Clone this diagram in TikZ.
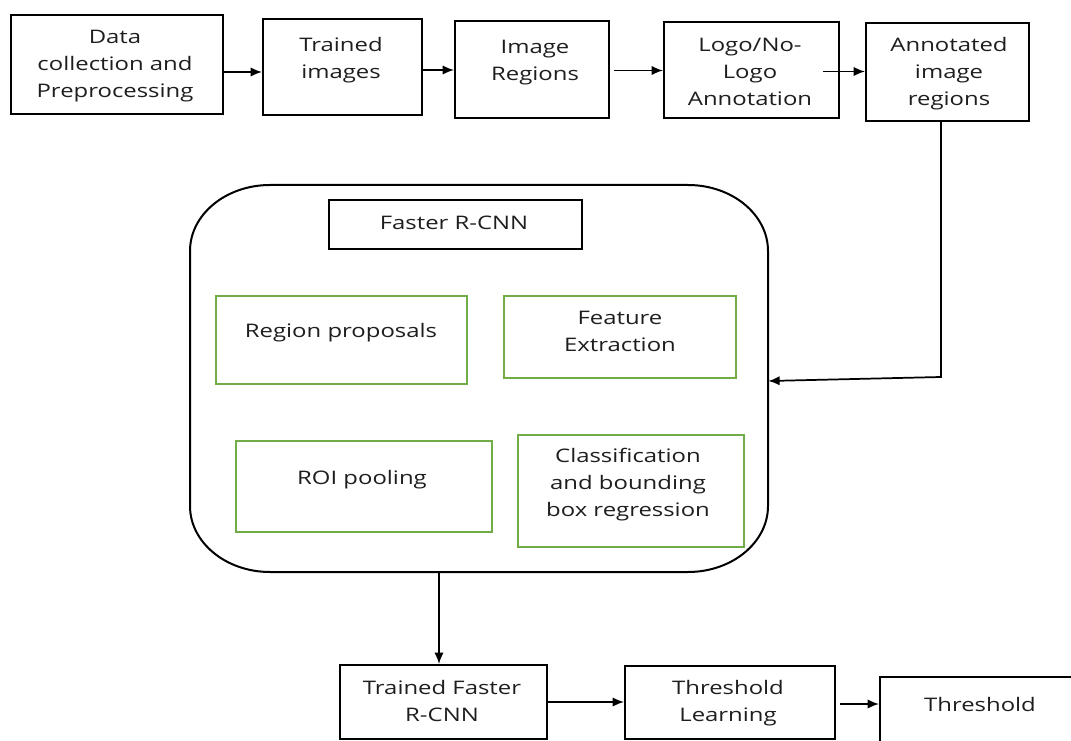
\documentclass[tikz,border=0pt]{standalone}
\usepackage{fontspec}
\setmainfont{Open Sans}[FakeStretch=1.28]
\usetikzlibrary{arrows.meta,fit}
\definecolor{boxgreen}{RGB}{112,173,71}
\definecolor{txtgray}{RGB}{30,30,30}
\begin{document}
\begin{tikzpicture}[x=0.75pt,y=-0.75pt,
  box/.style={draw=black, line width=1.5pt, inner sep=0pt},
  gbox/.style={draw=boxgreen, line width=1.2pt, inner sep=0pt},
  txt/.style={align=center, text=txtgray, font=\fontsize{14}{20.25}\selectfont, inner sep=0pt},
  conn/.style={line width=1.3pt, -{Latex[length=8.5pt,width=7pt]}},
]
\useasboundingbox (0,0) rectangle (1071,741);
\fill[white] (0,0) rectangle (1071,741);

% top row
\node[box, fit={(11,15) (223,114)}] (b1) {};
\node[box, fit={(263,19) (422,115)}] (b2) {};
\node[box, fit={(455,21) (609,118)}] (b3) {};
\node[box, fit={(664,22) (839,118)}] (b4) {};
\node[box, fit={(866,23) (1029,121)}] (b5) {};
\node[txt] (t1) at (115,66) {Data\\collection and\\Preprocessing};
\node[txt] (t2) at (341,60.5) {Trained\\images};
\node[txt] (t3) at (535,63) {Image\\Regions};
\node[txt] (t4) at (750,72) {Logo/No-\\Logo\\Annotation};
\node[txt] (t5) at (949,73.5) {Annotated\\image\\regions};

% Faster R-CNN container
\node[inner sep=0pt, fit={(190,185) (768,572)}] (rb) {};
\draw[line width=1.5pt] (270,185) -- (688,185)
  .. controls (732.2,185) and (768,214.6) .. (768,251) -- (768,506)
  .. controls (768,542.4) and (732.2,572) .. (688,572) -- (270,572)
  .. controls (225.8,572) and (190,542.4) .. (190,506) -- (190,251)
  .. controls (190,214.6) and (225.8,185) .. (270,185) -- cycle;
\node[box, fit={(329,200) (582,249)}] (frc) {};
\node[txt] (tfrc) at (454,223) {Faster R-CNN};
\node[gbox, fit={(216,296) (467,384)}] (g1) {};
\node[gbox, fit={(504,296) (736,378)}] (g2) {};
\node[gbox, fit={(236,441) (492,532)}] (g3) {};
\node[gbox, fit={(518,435) (744,547)}] (g4) {};
\node[txt] (tg1) at (341,333) {Region proposals};
\node[txt] (tg2) at (620,331.5) {Feature\\Extraction};
\node[txt] (tg3) at (362,480) {ROI pooling};
\node[txt] (tg4) at (628,484.5) {Classification\\and bounding\\box regression};

% bottom row
\node[box, fit={(340,665) (547,739)}] (tf) {};
\node[box, fit={(625,666) (835,739)}] (tl) {};
\node[box, fit={(880,677) (1100,780)}] (th) {};
\node[txt] (ttf) at (442,701) {Trained Faster\\R-CNN};
\node[txt] (ttl) at (728,703) {Threshold\\Learning};
\node[txt] (tth) at (980,704) {Threshold};

% helper coordinates
\coordinate (y72) at (0,72);
\coordinate (y70) at (0,70);
\coordinate (s3) at (614,70.5);
\coordinate (s4) at (823,71.5);
\coordinate (k1) at (941,377);
\coordinate (k2) at (0,381);
\coordinate (dx) at (439,0);
\coordinate (y702) at (0,702);
\coordinate (s8) at (840,704);

% connectors
\draw[conn] (b1.east |- y72) -- (b2.west |- y72);
\draw[conn] (b2.east |- y70) -- (b3.west |- y70);
\draw[conn] (s3) -- (b4.west |- s3);
\draw[conn] (s4) -- (b5.west |- s4);
\draw[conn] (b5.south -| k1) -- (k1) -- (rb.east |- k2);
\draw[conn] (rb.south -| dx) -- (tf.north -| dx);
\draw[conn] (tf.east |- y702) -- (tl.west |- y702);
\draw[conn] (s8) -- (th.west |- s8);
\end{tikzpicture}
\end{document}
